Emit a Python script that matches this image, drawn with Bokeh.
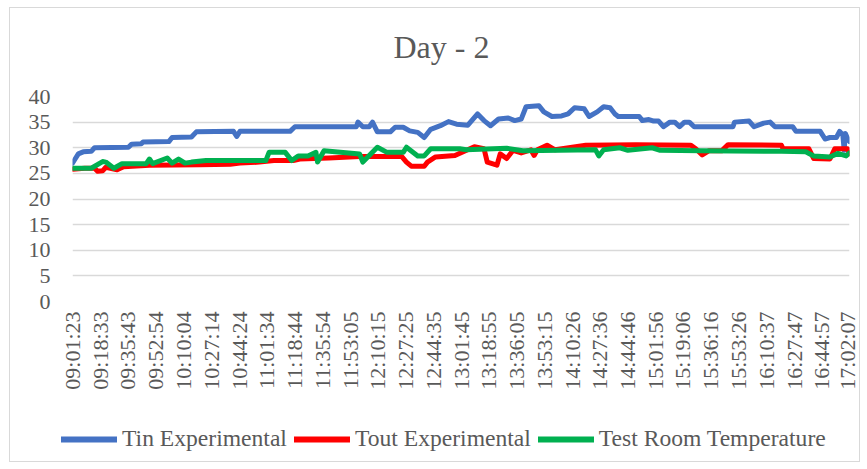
from bokeh.plotting import figure
from bokeh.models import Range1d, FixedTicker, Legend, LegendItem, Title
from bokeh.layouts import column
from bokeh.embed import file_html
from bokeh.resources import INLINE
import math

START = "09:01:23"
END = "17:02:07"

tick_labels = ["09:01:23", "09:18:33", "09:35:43", "09:52:54", "10:10:04", "10:27:14",
               "10:44:24", "11:01:34", "11:18:44", "11:35:54", "11:53:05", "12:10:15",
               "12:27:25", "12:44:35", "13:01:45", "13:18:55", "13:36:05", "13:53:15",
               "14:10:26", "14:27:36", "14:44:46", "15:01:56", "15:19:06", "15:36:16",
               "15:53:26", "16:10:37", "16:27:47", "16:44:57", "17:02:07"]

tin_time = ["09:01:23", "09:03", "09:05", "09:08", "09:13", "09:15", "09:36", "09:38", "09:44",
            "09:45", "10:01", "10:03", "10:15", "10:18", "10:41", "10:43", "10:45", "11:16",
            "11:19", "11:57", "11:58", "12:01", "12:05", "12:07", "12:10", "12:18", "12:21",
            "12:26", "12:30", "12:35", "12:39", "12:43", "12:49", "12:54", "12:59", "13:06",
            "13:12", "13:16", "13:20", "13:25", "13:31", "13:35", "13:39", "13:42", "13:50",
            "13:53", "13:58", "14:04", "14:08", "14:12", "14:18", "14:21", "14:26", "14:30",
            "14:34", "14:37", "14:39", "14:52", "14:54", "14:58", "15:01", "15:04", "15:07",
            "15:11", "15:14", "15:17", "15:20", "15:23", "15:26", "15:50", "15:51", "16:00",
            "16:03", "16:09", "16:13", "16:16", "16:27", "16:29", "16:44", "16:47", "16:50",
            "16:54", "16:56", "16:58:00", "16:58:50", "16:59:30", "17:00:40", "17:02:07"]
tin_vals = [27.0, 27.8, 28.8, 29.2, 29.3, 30.0, 30.1, 30.7, 30.8,
            31.1, 31.2, 32.0, 32.1, 33.1, 33.2, 32.2, 33.2, 33.2,
            34.1, 34.1, 35.0, 34.1, 34.1, 35.0, 33.1, 33.1, 34.0,
            34.0, 33.3, 33.0, 32.0, 33.6, 34.3, 35.1, 34.6, 34.4,
            36.6, 35.3, 34.3, 35.6, 35.8, 35.3, 35.6, 38.0, 38.2,
            37.0, 36.1, 36.2, 36.6, 37.8, 37.6, 36.1, 37.0, 38.0,
            37.8, 36.6, 36.1, 36.1, 35.3, 35.5, 35.2, 35.2, 34.1,
            35.0, 35.0, 34.1, 35.0, 35.0, 34.1, 34.1, 35.0, 35.2,
            34.1, 34.8, 35.0, 34.1, 34.1, 33.2, 33.2, 31.7, 32.0,
            32.0, 33.2, 32.5, 29.5, 32.8, 32.0, 31.2]

tout_time = ["09:01:23", "09:09", "09:15", "09:17", "09:20", "09:22", "09:29", "09:33", "09:49",
             "10:20", "10:39", "10:45", "10:57", "11:06", "11:18", "11:22", "11:40", "11:59",
             "12:25", "12:28", "12:31", "12:39", "12:41", "12:46", "12:58", "13:10", "13:16",
             "13:18", "13:24", "13:26", "13:30", "13:34", "13:39", "13:45", "13:47", "13:49",
             "13:55", "14:00", "14:19", "14:50", "15:24", "15:27", "15:31", "15:35", "15:43",
             "15:47", "16:20", "16:21", "16:37", "16:40", "16:50", "16:53", "17:01", "17:02:07"]
tout_vals = [25.8, 26.0, 26.0, 25.4, 25.5, 26.2, 25.7, 26.3, 26.6,
             26.7, 26.8, 27.0, 27.2, 27.5, 27.5, 27.8, 28.0, 28.3,
             28.3, 27.2, 26.4, 26.4, 27.2, 28.2, 28.5, 30.2, 29.8,
             27.2, 26.6, 28.8, 27.9, 29.5, 29.0, 29.6, 28.5, 29.6,
             30.5, 29.6, 30.5, 30.6, 30.5, 29.8, 28.6, 29.4, 29.4,
             30.6, 30.5, 29.8, 29.8, 27.9, 27.8, 29.8, 29.8, 28.8]

room_time = ["09:01:23", "09:13", "09:20", "09:22", "09:27", "09:32", "09:47", "09:49", "09:51",
             "10:00", "10:03", "10:07", "10:11", "10:15", "10:24", "11:01", "11:03", "11:13",
             "11:17", "11:21", "11:27", "11:32", "11:33", "11:37", "11:59", "12:01", "12:10",
             "12:16", "12:26", "12:28", "12:35", "12:39", "12:43", "13:01", "13:05", "13:30",
             "13:40", "14:25", "14:27", "14:30", "14:40", "14:45", "15:00", "15:05", "15:30",
             "16:20", "16:35", "16:40", "16:50", "16:55", "17:00", "17:02:07"]
room_vals = [26.0, 26.0, 27.3, 27.2, 26.0, 26.9, 26.9, 27.8, 26.9,
             28.0, 27.0, 27.8, 27.0, 27.2, 27.5, 27.5, 29.1, 29.1,
             27.5, 28.4, 28.4, 29.1, 27.2, 29.4, 28.8, 27.2, 30.1,
             29.1, 29.1, 30.1, 28.4, 28.4, 29.8, 29.8, 29.6, 29.9,
             29.4, 29.6, 28.4, 29.6, 30.0, 29.5, 30.0, 29.5, 29.4,
             29.3, 29.2, 28.4, 28.2, 28.9, 28.4, 29.0]

series_names = ["Tin Experimental", "Tout Experimental", "Test Room Temperature"]
series_colors = ["#4472C4", "#FF0000", "#00B050"]


def to_sec(t):
    parts = [int(v) for v in t.split(":")]
    while len(parts) < 3:
        parts.append(0)
    return parts[0] * 3600 + parts[1] * 60 + parts[2]


t0 = to_sec(START)


def rel(ts):
    return [to_sec(t) - t0 for t in ts]


FONT = "Liberation Serif"
GRAY = "#595959"

p = figure(width=849, height=393, output_backend="svg", toolbar_location=None,
           x_range=Range1d(0, to_sec(END) - t0), y_range=Range1d(0, 40),
           min_border_left=62, min_border_right=10, min_border_top=88, min_border_bottom=100)
p.frame_align = False
p.outline_line_color = None
p.background_fill_color = "white"
p.border_fill_color = "white"
p.title.text = ""
p.title.standoff = 0

# spacer between plot area and title, then the title itself
p.add_layout(Title(text=" ", text_font_size="1px", standoff=29), "above")
p.add_layout(Title(text="Day - 2", align="left", offset=321, standoff=0,
                   text_font=FONT, text_font_size="32px", text_font_style="normal",
                   text_color=GRAY), "above")

tick_pos = rel(tick_labels)
p.xaxis.ticker = FixedTicker(ticks=tick_pos)
p.xaxis.major_label_overrides = {tp: lab for tp, lab in zip(tick_pos, tick_labels)}
p.xaxis.major_label_orientation = math.pi / 2
p.yaxis.ticker = FixedTicker(ticks=[0, 5, 10, 15, 20, 25, 30, 35, 40])

for ax in (p.xaxis[0], p.yaxis[0]):
    ax.axis_line_color = None
    ax.major_tick_line_color = None
    ax.minor_tick_line_color = None
    ax.major_tick_out = 0
    ax.major_tick_in = 0
    ax.major_label_text_font = FONT
    ax.major_label_text_font_size = "22px"
    ax.major_label_text_color = GRAY
p.yaxis.major_label_standoff = 22
p.xaxis.major_label_standoff = 10

p.xgrid.visible = False
p.ygrid.grid_line_color = "#d9d9d9"
p.ygrid.grid_line_width = 1.3

for ts, vs, col in zip([tin_time, tout_time, room_time], [tin_vals, tout_vals, room_vals],
                       series_colors):
    p.line(rel(ts), vs, line_color=col, line_width=5, line_join="round", line_cap="round")

# legend strip below the chart
p2 = figure(width=849, height=60, output_backend="svg", toolbar_location=None,
            x_axis_type=None, y_axis_type=None, min_border=0,
            x_range=Range1d(0, 1), y_range=Range1d(0, 1))
p2.frame_align = False
p2.outline_line_color = None
p2.xgrid.visible = False
p2.ygrid.grid_line_color = None
p2.background_fill_color = "white"
p2.border_fill_color = "white"

items = []
for name, col in zip(series_names, series_colors):
    r = p2.line([-1.0], [float("nan")], line_color=col, line_width=6, line_cap="round")
    items.append(LegendItem(label=name, renderers=[r]))

legend = Legend(items=items, orientation="horizontal", location=(51, 9),
                label_text_font=FONT, label_text_font_size="23.6px", label_text_color=GRAY,
                glyph_width=56, label_standoff=5, spacing=7, padding=0, margin=0,
                border_line_color=None, background_fill_alpha=0)
p2.add_layout(legend)

layout = column(p, p2, spacing=0)
layout.styles = {"border": "1px solid #d9d9d9", "margin-left": "9px", "margin-top": "7px"}

open("out.html", "w").write(file_html(layout, INLINE))
